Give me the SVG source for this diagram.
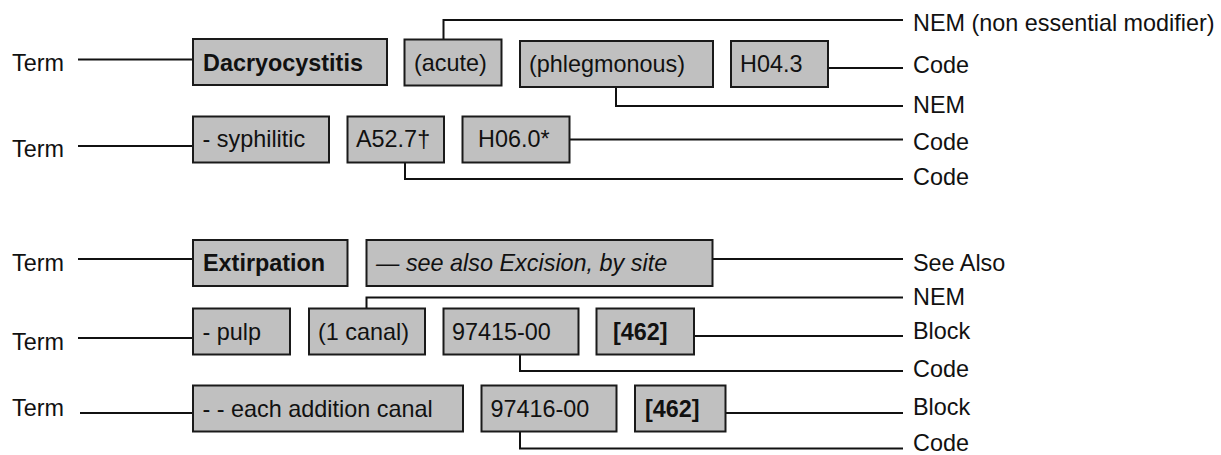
<svg xmlns="http://www.w3.org/2000/svg" width="1221" height="455" viewBox="0 0 1221 455">
<style>
text{font-family:"Liberation Sans",Arial,sans-serif;font-size:23.4px;fill:#111}
.b{font-weight:bold}
.i{font-style:italic}
.box rect{fill:#c0c0c0;stroke:#1a1a1a;stroke-width:2}
.con path{fill:none;stroke:#111;stroke-width:2}
</style>
<rect width="1221" height="455" fill="#fff"/>
<g id="connectors" class="con">
<path d="M78 59.5H193"/>
<path d="M78 146H193"/>
<path d="M78 259H193"/>
<path d="M78 338H193"/>
<path d="M80 413H193"/>
<path d="M443.5 39.5V20H903"/>
<path d="M616 87V106H903"/>
<path d="M828 68H903"/>
<path d="M569.5 139.5H903"/>
<path d="M405 162.5V179H903"/>
<path d="M712.5 259H903"/>
<path d="M366.5 308.5V297.5H903"/>
<path d="M694 336H903"/>
<path d="M520 354.5V371H903"/>
<path d="M725.5 413H903"/>
<path d="M520 431.5V448.5H903"/>
</g>
<g id="labels">
<text x="12" y="71">Term</text>
<text x="12" y="157">Term</text>
<text x="12" y="271">Term</text>
<text x="12" y="349.5">Term</text>
<text x="12" y="415.5">Term</text>
<text x="913" y="30.5">NEM (non essential modifier)</text>
<text x="913" y="72.5">Code</text>
<text x="913" y="112.5">NEM</text>
<text x="913" y="150">Code</text>
<text x="913" y="185">Code</text>
<text x="913" y="270.5">See Also</text>
<text x="913" y="304.5">NEM</text>
<text x="913" y="338.5">Block</text>
<text x="913" y="376.5">Code</text>
<text x="913" y="415">Block</text>
<text x="913" y="451">Code</text>
</g>
<g id="n1" class="box"><rect x="193" y="39" width="194" height="46"/><text class="b" x="203" y="70.5">Dacryocystitis</text></g>
<g id="n2" class="box"><rect x="404.5" y="39.5" width="97" height="46"/><text x="414" y="71">(acute)</text></g>
<g id="n3" class="box"><rect x="520" y="41" width="193" height="46"/><text x="529" y="72">(phlegmonous)</text></g>
<g id="n4" class="box"><rect x="731" y="41" width="97" height="46"/><text x="740" y="72">H04.3</text></g>
<g id="n5" class="box"><rect x="193" y="116.5" width="136" height="46"/><text x="202.5" y="147">- syphilitic</text></g>
<g id="n6" class="box"><rect x="347.5" y="116.5" width="96.5" height="46"/><text x="356" y="147">A52.7†</text></g>
<g id="n7" class="box"><rect x="462.5" y="116.5" width="107" height="46"/><text x="478" y="147">H06.0*</text></g>
<g id="n8" class="box"><rect x="193" y="240" width="154.5" height="46"/><text class="b" x="203" y="271">Extirpation</text></g>
<g id="n9" class="box"><rect x="366.5" y="240" width="346" height="46"/><text class="i" x="376" y="271">— see also Excision, by site</text></g>
<g id="n10" class="box"><rect x="193" y="308.5" width="97" height="46"/><text x="202.5" y="339.5">- pulp</text></g>
<g id="n11" class="box"><rect x="309" y="308.5" width="116" height="46"/><text x="318" y="339.5">(1 canal)</text></g>
<g id="n12" class="box"><rect x="443.5" y="308.5" width="135" height="46"/><text x="452" y="339.5">97415-00</text></g>
<g id="n13" class="box"><rect x="596.5" y="308.5" width="97.5" height="46"/><text class="b" x="613" y="339.5">[462]</text></g>
<g id="n14" class="box"><rect x="193" y="385.5" width="270" height="46"/><text x="202.5" y="416.5">- - each addition canal</text></g>
<g id="n15" class="box"><rect x="481.5" y="385.5" width="135" height="46"/><text x="490.5" y="416.5">97416-00</text></g>
<g id="n16" class="box"><rect x="635" y="385.5" width="90.5" height="46"/><text class="b" x="645" y="416.5">[462]</text></g>
</svg>
